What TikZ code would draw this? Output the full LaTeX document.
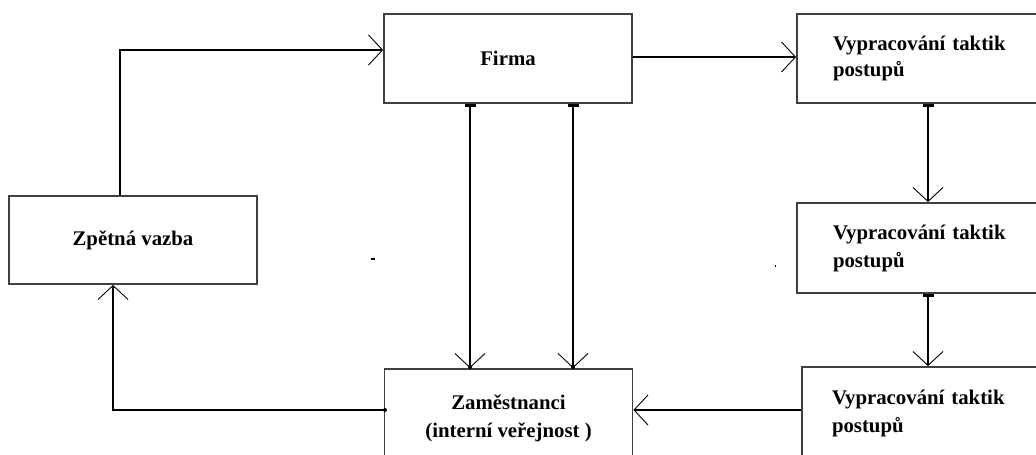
\documentclass[tikz,border=0pt]{standalone}
\usepackage{fontspec}
\setmainfont{Liberation Serif}
\usetikzlibrary{arrows.meta}
\tikzset{
  box/.style={draw=black!75, line width=1.8pt, fill=white, inner sep=0pt,
    font=\bfseries\fontsize{20.8}{28}\selectfont, align=center},
  lbox/.style={box, align=left, inner xsep=36pt, inner ysep=0pt},
  conn/.style={line width=1.3pt, black,
    -{Straight Barb[length=14pt,width=30pt,line width=0.9pt]}},
  tconn/.style={conn, {Bar[width=11pt,line width=3pt]}-{Straight Barb[length=14pt,width=30pt,line width=0.9pt]}}
}
\begin{document}
\begin{tikzpicture}[x=1pt,y=-1pt]
\useasboundingbox (0,0) rectangle (1036,455);
\clip (0,0) rectangle (1036,455);
\fill[white] (0,0) rectangle (1036,455);
% boxes
\node[box, minimum width=248pt, minimum height=89pt] (firma) at (508,58.5) {Firma};
\node[box, minimum width=248pt, minimum height=88pt] (zpet) at (133,240) {\raisebox{-3pt}{Zpětná vazba}};
\node[box, minimum width=248pt, minimum height=98pt] (zam) at (508.5,418) {Zaměstnanci\\(interní veřejnost )};
\node[lbox, minimum width=283pt, minimum height=89pt, text width=211pt] (t1) at (938.5,58.5) {\raisebox{-2pt}{Vypracování taktik}\\postupů};
\node[lbox, minimum width=283pt, minimum height=90pt, text width=211pt] (t2) at (938.5,248) {Vypracování taktik\\postupů};
\node[lbox, inner xsep=30pt, minimum width=278pt, minimum height=93pt, text width=218pt] (t3) at (941,413.5) {Vypracování taktik\\postupů};
% connectors
\coordinate (c1) at (120,50);
\draw[conn] (zpet.north -| c1) -- (c1) -- (c1 -| firma.west);
\draw[conn] (firma.east |- 0,57) -- (t1.west |- 0,57);
\draw[tconn] (firma.south -| 470,0) -- (zam.north -| 470,0);
\draw[tconn] (firma.south -| 573,0) -- (zam.north -| 573,0);
\draw[tconn] (t1.south -| 928,0) -- (t2.north -| 928,0);
\draw[tconn] (t2.south -| 928,0) -- (t3.north -| 928,0);
\draw[conn] (t3.west |- 0,410) -- (zam.east |- 0,410);
\coordinate (c2) at (113,410);
\draw[conn] (zam.west |- c2) -- (c2) -- (c2 |- zpet.south);
% small dots at arrow tips
\fill (470,367) circle (2pt);
\fill (573,367) circle (2pt);
\fill (385,410) circle (2pt);
% stray marks
\fill (370.5,257.5) rectangle (374.5,259.5);
\fill (774.5,265) rectangle (776,267);
\end{tikzpicture}
\end{document}
